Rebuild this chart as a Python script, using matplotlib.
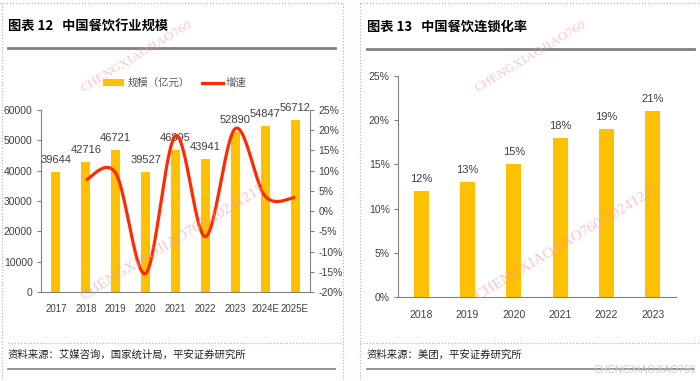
import matplotlib
matplotlib.use('Agg')
import matplotlib.pyplot as plt
from matplotlib.lines import Line2D
from matplotlib.patches import Patch
import numpy as np

plt.rcParams['font.family'] = ['Liberation Sans', 'Noto Sans CJK SC']
plt.rcParams['axes.unicode_minus'] = False

# data
years = ['2017', '2018', '2019', '2020', '2021', '2022', '2023', '2024E', '2025E']
scale = [39644, 42716, 46721, 39527, 46895, 43941, 52890, 54847, 56712]
growth = [7.7, 9.4, -15.4, 18.6, -6.3, 20.4, 3.7, 3.4]   # 2018 .. 2025E, %

chain_years = ['2018', '2019', '2020', '2021', '2022', '2023']
chain_rate = [12, 13, 15, 18, 19, 21]

GOLD = '#FFC000'
RED = '#FF2A00'
GRAY = '#808080'
TXT = '#404040'
W, H = 700, 381


def fx(x):
    return x / W


def fy(y):
    return 1 - y / H


def smooth(xs, ys, n=40):
    # excel-like smoothed line (catmull-rom as bezier)
    xs = np.asarray(xs, float)
    ys = np.asarray(ys, float)
    px = np.concatenate([[xs[0]], xs, [xs[-1]]])
    py = np.concatenate([[ys[0]], ys, [ys[-1]]])
    t = np.linspace(0, 1, n)[:, None]
    out_x, out_y = [], []
    for i in range(1, len(px) - 2):
        p0 = np.array([px[i], py[i]])
        p3 = np.array([px[i + 1], py[i + 1]])
        c1 = p0 + (p3 - np.array([px[i - 1], py[i - 1]])) / 6
        c2 = p3 - (np.array([px[i + 2], py[i + 2]]) - p0) / 6
        b = (1 - t) ** 3 * p0 + 3 * (1 - t) ** 2 * t * c1 + 3 * (1 - t) * t ** 2 * c2 + t ** 3 * p3
        out_x.append(b[:, 0])
        out_y.append(b[:, 1])
    return np.concatenate(out_x), np.concatenate(out_y)


def fig_line(x0, y0, x1, y1, **kw):
    fig.add_artist(Line2D([fx(x0), fx(x1)], [fy(y0), fy(y1)], **kw))


def style_axis(a):
    for s in ['top', 'right']:
        a.spines[s].set_visible(False)
    for s in ['left', 'bottom']:
        a.spines[s].set_color(GRAY)
        a.spines[s].set_linewidth(0.8)
    a.tick_params(axis='y', direction='out', length=3, color=GRAY, labelsize=7.5, labelcolor=TXT, pad=3)
    a.tick_params(axis='x', length=0, labelsize=7, labelcolor=TXT, pad=9)
    a.set_facecolor('none')


fig = plt.figure(figsize=(7, 3.81), dpi=100)

# ---- frames, titles, sources ----
dot = dict(color='#b8b8b8', lw=0.9, linestyle=(0, (1, 1.5)))
fig_line(0, 3, 343, 3, **dot)
fig_line(343, 3, 343, 381, **dot)
fig_line(2, 3, 2, 381, **dot)
fig_line(8, 343, 343, 343, **dot)
fig_line(360, 3, 700, 3, **dot)
fig_line(360, 3, 360, 381, **dot)
fig_line(360, 343, 700, 343, **dot)

fig.text(fx(8), fy(27), '图表 12   中国餐饮行业规模', fontsize=9.5, fontweight='bold',
         family=['Noto Sans CJK SC'], va='center', ha='left')
fig.text(fx(367), fy(27), '图表 13   中国餐饮连锁化率', fontsize=9.5, fontweight='bold',
         family=['Noto Sans CJK SC'], va='center', ha='left')
fig_line(8, 48, 335, 48, color=GRAY, lw=2)
fig_line(367, 49, 694, 49, color=GRAY, lw=2)

fig.text(fx(8), fy(355), '资料来源：艾媒咨询，国家统计局，平安证券研究所', fontsize=7.5,
         family=['Noto Sans CJK SC'], va='center', ha='left', color='#222222', style='italic')
fig.text(fx(367), fy(355), '资料来源：美团，平安证券研究所', fontsize=7.5,
         family=['Noto Sans CJK SC'], va='center', ha='left', color='#222222', style='italic')
fig_line(8, 369, 335, 369, color=GRAY, lw=1.2)
fig_line(367, 369, 694, 369, color=GRAY, lw=1.2)

# ---- left chart ----
ax = fig.add_axes([fx(41), fy(292), 269 / W, 182 / H])
x = np.arange(len(years))
ax.bar(x, scale, width=0.3, color=GOLD, zorder=2)
ax.set_xlim(-0.5, len(years) - 0.5)
ax.set_ylim(0, 60000)
ax.set_yticks(range(0, 60001, 10000))
ax.set_xticks(x)
ax.set_xticklabels(years)
style_axis(ax)
for xi, v in zip(x, scale):
    ax.annotate(str(v), (xi, v), xytext=(0, 5), textcoords='offset points',
                ha='center', va='bottom', fontsize=8, color=TXT)

ax2 = ax.twinx()
ax2.set_ylim(-20, 25)
ax2.set_yticks(range(-20, 26, 5))
ax2.set_yticklabels([f'{v}%' for v in range(-20, 26, 5)])
for s in ['top', 'left', 'bottom']:
    ax2.spines[s].set_visible(False)
ax2.spines['right'].set_color(GRAY)
ax2.spines['right'].set_linewidth(0.8)
ax2.tick_params(axis='y', direction='out', length=3, color=GRAY, labelsize=7.5, labelcolor=TXT, pad=3)
sx, sy = smooth(x[1:], growth)
ax2.plot(sx, sy, color=RED, lw=2.3, solid_capstyle='butt')

handles = [Patch(facecolor=GOLD), Line2D([], [], color=RED, lw=2.3)]
ax2.legend(handles, ['规模（亿元）', '增速'], loc='center', bbox_to_anchor=(fx(175), fy(83)),
           bbox_transform=fig.transFigure, ncol=2, frameon=False, fontsize=7.5,
           handlelength=2.0, handleheight=0.6, columnspacing=1.2, handletextpad=0.3,
           labelcolor='#595959')

# ---- right chart ----
bx = fig.add_axes([fx(398), fy(297), 278 / W, 221 / H])
x2 = np.arange(len(chain_years))
bx.bar(x2, chain_rate, width=0.32, color=GOLD, zorder=2)
bx.set_xlim(-0.5, len(chain_years) - 0.5)
bx.set_ylim(0, 25)
bx.set_yticks(range(0, 26, 5))
bx.set_yticklabels([f'{v}%' for v in range(0, 26, 5)])
bx.set_xticks(x2)
bx.set_xticklabels(chain_years)
style_axis(bx)
bx.tick_params(axis='x', labelsize=7.5)
for xi, v in zip(x2, chain_rate):
    bx.annotate(f'{v}%', (xi, v), xytext=(0, 5), textcoords='offset points',
                ha='center', va='bottom', fontsize=8, color=TXT)

# ---- watermarks ----
wm = dict(fontsize=11, family=['Liberation Serif'], color='#f4a0a0', alpha=0.6,
          rotation=31, rotation_mode='anchor', ha='left', va='baseline', zorder=10)
for px_, py_ in [(83, 300), (478, 300)]:
    fig.text(fx(px_), fy(py_), 'CHENGXIAOJIAO760-20241215', **wm)
wm['fontsize'] = 9.5
for px_, py_ in [(83, 92), (478, 92)]:
    fig.text(fx(px_), fy(py_), 'CHENGXIAOJIAO760', **wm)
fig.text(fx(594), fy(370), 'CHENGXIAOJIAO760', fontsize=7.5, color='#cccccc',
         family=['Liberation Sans'], ha='left', va='center')

fig.savefig('out.png', dpi=100)
